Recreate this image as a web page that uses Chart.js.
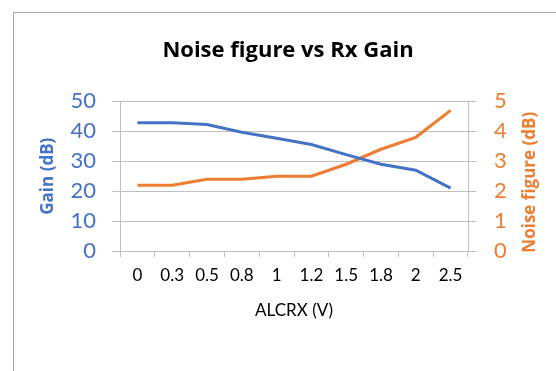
<!DOCTYPE html>
<html>
<head>
<meta charset="utf-8">
<script src="https://cdn.jsdelivr.net/npm/chart.js@4"></script>
<style>
    html, body { margin: 0; padding: 0; background: #fff; }
    #wrap { position: relative; width: 556px; height: 371px; overflow: hidden; }
    #frame { position: absolute; left: 13px; top: 12px; width: 600px; height: 400px;
             border-left: 1px solid #a6a6a6; border-top: 1px solid #a6a6a6; }
    canvas { position: absolute; left: 0; top: 0; }
</style>
</head>
<body>
<div id="wrap">
    <div id="frame"></div>
    <canvas id="chart" width="556" height="371"></canvas>
</div>
<script>
// Data
const voltages = ['0', '0.3', '0.5', '0.8', '1', '1.2', '1.5', '1.8', '2', '2.5'];
const gainDb = [42.9, 42.9, 42.3, 39.7, 37.7, 35.6, 32.2, 29, 27, 21];
const noiseFigureDb = [2.2, 2.2, 2.4, 2.4, 2.5, 2.5, 2.9, 3.4, 3.8, 4.7];
const gainTicks = [0, 10, 20, 30, 40, 50];
const noiseTicks = [0, 1, 2, 3, 4, 5];

const colors = {
    gain: '#4472C4',
    noise: '#ED7D31',
    grid: '#bfbfbf',
    text: '#000000'
};
const fontFamily = 'Lato, "Open Sans", sans-serif';
const boldFamily = '"Open Sans", Lato, sans-serif';
const noiseAxisTitle = 'Noise figure (dB)';

// Right-hand axis title reads bottom-to-top, like Excel
const rightTitlePlugin = {
    id: 'rightTitle',
    afterDraw(chart) {
        const s = chart.scales.y1;
        const ctx = chart.ctx;
        ctx.save();
        ctx.translate(530, (s.top + s.bottom) / 2 + 6);
        ctx.rotate(-Math.PI / 2);
        ctx.fillStyle = colors.noise;
        ctx.font = 'bold 17px ' + boldFamily;
        ctx.textAlign = 'center';
        ctx.textBaseline = 'middle';
        ctx.fillText(noiseAxisTitle, 0, 0);
        ctx.restore();
    }
};

new Chart(document.getElementById('chart'), {
    type: 'line',
    data: {
        labels: voltages,
        datasets: [
            {
                label: 'Gain (dB)',
                data: gainDb,
                borderColor: colors.gain,
                backgroundColor: colors.gain,
                borderWidth: 3,
                pointRadius: 0,
                tension: 0,
                yAxisID: 'y'
            },
            {
                label: noiseAxisTitle,
                data: noiseFigureDb,
                borderColor: colors.noise,
                backgroundColor: colors.noise,
                borderWidth: 3,
                pointRadius: 0,
                tension: 0,
                yAxisID: 'y1'
            }
        ]
    },
    plugins: [rightTitlePlugin],
    options: {
        responsive: false,
        animation: false,
        layout: {
            padding: { left: 30, right: 10, top: 0, bottom: 46 }
        },
        plugins: {
            legend: { display: false },
            tooltip: { enabled: false },
            title: {
                display: true,
                text: 'Noise figure vs Rx Gain',
                color: colors.text,
                font: { family: boldFamily, size: 22, weight: 'bold' },
                padding: { top: 38, bottom: 37 }
            }
        },
        scales: {
            x: {
                offset: true,
                grid: {
                    offset: true,
                    drawOnChartArea: false,
                    tickLength: 6,
                    color: colors.grid
                },
                border: { color: colors.grid },
                ticks: {
                    color: colors.text,
                    font: { family: fontFamily, size: 17 },
                    padding: 8,
                    maxRotation: 0,
                    autoSkip: false
                },
                title: {
                    display: true,
                    text: 'ALCRX (V)',
                    color: colors.text,
                    font: { family: fontFamily, size: 17 }
                },
                afterFit: function (scale) { scale.height = 74; }
            },
            y: {
                position: 'left',
                min: 0,
                max: 50,
                afterBuildTicks: function (scale) {
                    scale.ticks = gainTicks.map(v => ({ value: v }));
                },
                grid: { color: colors.grid, tickLength: 8 },
                border: { color: colors.grid },
                ticks: {
                    color: colors.gain,
                    font: { family: fontFamily, size: 22 },
                    padding: 16
                },
                title: {
                    display: true,
                    text: 'Gain (dB)',
                    color: colors.gain,
                    font: { family: boldFamily, size: 17, weight: 'bold' },
                    padding: { top: 8, bottom: 4 }
                },
                afterFit: function (scale) { scale.width = 90; }
            },
            y1: {
                position: 'right',
                min: 0,
                max: 5,
                afterBuildTicks: function (scale) {
                    scale.ticks = noiseTicks.map(v => ({ value: v }));
                },
                grid: { drawOnChartArea: false, color: colors.grid, tickLength: 8 },
                border: { color: colors.grid },
                ticks: {
                    color: colors.noise,
                    font: { family: fontFamily, size: 22 },
                    padding: 18
                },
                title: { display: false },
                afterFit: function (scale) { scale.width = 78; }
            }
        }
    }
});
</script>
</body>
</html>
